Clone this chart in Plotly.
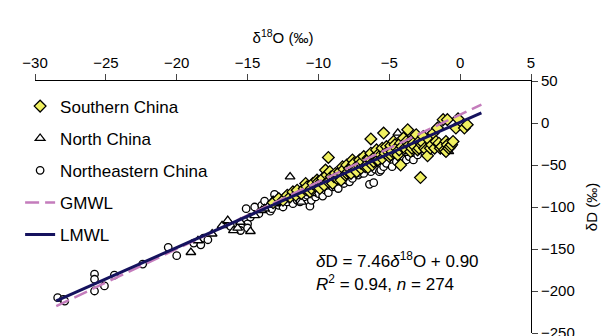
import plotly.graph_objects as go

# Southern China (diamonds)
south_x = [-13.2, -12.8, -12.5, -12.2, -12.0, -11.8, -11.6, -11.5, -11.2, -11.0, -10.9, -10.8, -10.6, -10.5, -10.4,
           -10.2, -10.1, -10.0, -9.9, -9.8, -9.7, -9.6, -9.5, -9.4, -9.3, -9.3, -9.2, -9.1, -9.0, -8.9, -8.8, -8.7,
           -8.6, -8.5, -8.4, -8.3, -8.2, -8.1, -8.0, -8.0, -7.9, -7.8, -7.7, -7.6, -7.6, -7.5, -7.4, -7.3, -7.2,
           -7.1, -7.0, -7.0, -6.9, -6.8, -6.7, -6.6, -6.5, -6.5, -6.4, -6.3, -6.3, -6.2, -6.1, -6.0, -5.9, -5.9,
           -5.8, -5.7, -5.6, -5.5, -5.5, -5.4, -5.3, -5.2, -5.1, -5.0, -4.9, -4.9, -4.8, -4.7, -4.6, -4.5, -4.4,
           -4.3, -4.2, -4.2, -4.1, -4.0, -3.9, -3.8, -3.7, -3.6, -3.5, -3.4, -3.4, -3.3, -3.2, -3.1, -3.0, -2.9,
           -2.9, -2.8, -2.7, -2.6, -2.6, -2.5, -2.4, -2.3, -2.2, -2.1, -2.0, -1.9, -1.8, -1.7, -1.6, -1.5, -1.4,
           -1.3, -1.2, -1.1, -1.0, -1.0, -0.9, -0.9, -0.8, -0.7, -0.6, -0.5, -0.3, -0.15, 0.3, 0.5]
south_y = [-95, -90, -92, -86, -88, -82, -86, -80, -84, -78, -72, -76, -82, -78, -72,
           -75, -68, -70, -78, -70, -66, -74, -56, -62, -41, -70, -58, -64, -72, -64, -60, -66,
           -62, -58, -68, -52, -55, -62, -50, -60, -58, -54, -60, -52, -44, -48, -56, -58, -50,
           -44, -54, -48, -46, -40, -52, -50, -53, -42, -42, -19, -36, -50, -46, -40, -32, -44,
           -44, -36, -38, -30, -42, -12, -36, -28, -34, -40, -27, -38, -34, -22, -26, -30, -38,
           -32, -50, -24, -28, -18, -30, -22, -8, -26, -34, -20, -30, -24, -28, -14, -32, -22,
           -30, -65, -26, -16, -24, -30, -32, -39, -20, -30, -26, -12, -30, -22, -6, -24, -30,
           -28, 4, -32, -22, -34, 4, -26, -30, -28, -26, -22, -6, 5, -6, -2]

# North China (triangles)
north_x = [-19.0, -18.5, -17.5, -16.8, -16.4, -16.4, -16.0, -15.7, -15.5, -14.8, -14.5, -14.0, -13.8, -13.5, -13.2,
           -13.0, -12.8, -12.5, -12.0, -11.8, -11.5, -11.2, -10.8, -10.5, -10.2, -9.8, -9.5, -9.2, -8.8, -8.5, -8.2,
           -7.8, -7.5, -7.2, -6.8, -6.5, -6.2, -5.8, -5.5, -5.2, -4.8, -4.4, -4.2, -4.0, -3.8, -3.6, -3.2, -2.8,
           -1.2, -0.8]
north_y = [-154, -140, -132, -122, -117, -116, -128, -125, -118, -129, -110, -104, -102, -98, -92,
           -96, -94, -90, -64, -86, -80, -94, -80, -84, -76, -72, -70, -66, -70, -58, -62,
           -56, -60, -54, -48, -52, -46, -42, -40, -38, -30, -12, -36, -36, -26, -28, -22, -30,
           -30, -34]

# Northeastern China (circles)
ne_x = [-28.4, -28.0, -27.9, -25.8, -25.8, -25.8, -25.1, -24.4, -22.4, -20.6, -20.0, -18.8, -18.3, -18.1, -17.8,
        -16.2, -15.5, -15.1, -15.0, -15.0, -14.8, -14.5, -14.2, -14.0, -13.8, -13.4, -13.3, -13.1, -12.8, -12.5,
        -12.2, -12.0, -11.8, -11.5, -11.3, -11.0, -10.8, -10.6, -10.5, -10.2, -10.0, -9.8, -9.7, -9.5, -9.3,
        -9.0, -8.8, -8.6, -8.2, -8.0, -7.8, -7.6, -7.2, -7.0, -6.8, -6.4, -6.3, -6.1, -6.0, -5.7, -5.6, -5.4,
        -5.2, -4.8, -4.5, -4.2, -3.8, -3.6, -3.3, -3.0]
ne_y = [-208, -210, -212, -180, -186, -200, -194, -181, -168, -148, -158, -143, -145, -137, -139,
        -123, -128, -102, -120, -125, -112, -100, -108, -98, -93, -105, -102, -85, -98, -100,
        -94, -90, -96, -92, -94, -88, -86, -99, -92, -88, -84, -78, -87, -80, -83,
        -76, -72, -78, -72, -68, -70, -66, -62, -60, -60, -73, -58, -71, -55, -58, -56, -52,
        -48, -52, -46, -50, -44, -40, -44, -38]

# Meteoric water lines
line_x = [-28.5, 1.5]
gmwl_slope, gmwl_icpt = 8.0, 10.0
lmwl_slope, lmwl_icpt = 7.46, 0.90
gmwl_y = [gmwl_slope * v + gmwl_icpt for v in line_x]
lmwl_y = [lmwl_slope * v + lmwl_icpt for v in line_x]

x_ticks = [-30, -25, -20, -15, -10, -5, 0, 5]
y_ticks = [50, 0, -50, -100, -150, -200, -250]

FONT = "Liberation Sans, Arial, sans-serif"
fig = go.Figure()

fig.add_trace(go.Scatter(x=ne_x, y=ne_y, mode="markers", name="Northeastern China",
                         legendgroup="c", legendrank=3,
                         marker=dict(symbol="circle", size=7.5, color="white",
                                     line=dict(color="black", width=1.3))))
fig.add_trace(go.Scatter(x=north_x, y=north_y, mode="markers", name="North China",
                         legendgroup="b", legendrank=2,
                         marker=dict(symbol="triangle-up", size=8.5, color="white",
                                     line=dict(color="black", width=1.3))))
fig.add_trace(go.Scatter(x=south_x, y=south_y, mode="markers", name="Southern China",
                         legendgroup="a", legendrank=1,
                         marker=dict(symbol="diamond", size=9, color="#f0f060",
                                     line=dict(color="black", width=1.3))))
fig.add_trace(go.Scatter(x=line_x, y=gmwl_y, mode="lines", name="GMWL",
                         legendgroup="d", legendrank=4,
                         line=dict(color="#c47cbc", width=2.5, dash="14px,6px")))
fig.add_trace(go.Scatter(x=line_x, y=lmwl_y, mode="lines", name="LMWL",
                         legendgroup="e", legendrank=5,
                         line=dict(color="#15125e", width=3)))

fig.add_annotation(x=-10.3, y=-163, xref="x", yref="y", xanchor="left", yanchor="middle",
                   text="<i>δ</i>D = 7.46<i>δ</i><sup>18</sup>O + 0.90", showarrow=False,
                   font=dict(family=FONT, size=17, color="black"))
fig.add_annotation(x=-10.3, y=-191, xref="x", yref="y", xanchor="left", yanchor="middle",
                   text="<i>R</i><sup>2</sup> = 0.94, <i>n</i> = 274", showarrow=False,
                   font=dict(family=FONT, size=17, color="black"))

fig.update_layout(
    width=610, height=336,
    margin=dict(l=27, r=87, t=73, b=3),
    paper_bgcolor="white", plot_bgcolor="white",
    font=dict(family=FONT, size=15, color="black"),
    showlegend=True,
    legend=dict(x=-0.03, y=0.97, xanchor="left", yanchor="top",
                bgcolor="rgba(0,0,0,0)", font=dict(family=FONT, size=17),
                traceorder="grouped", tracegroupgap=7, itemwidth=30),
    xaxis=dict(side="top", range=[-30, 5], tickvals=x_ticks, ticks="outside", ticklen=6,
               showline=True, linecolor="black", linewidth=1, showgrid=False, zeroline=False,
               tickfont=dict(size=15),
               title=dict(text="δ<sup>18</sup>O (‰)", standoff=6, font=dict(size=15))),
    yaxis=dict(side="right", range=[-250, 50], tickvals=y_ticks, ticks="outside", ticklen=6,
               showline=True, linecolor="black", linewidth=1, showgrid=False, zeroline=False,
               tickfont=dict(size=15), ticklabeloverflow="allow",
               title=dict(text="δD (‰)", standoff=12, font=dict(size=15))),
)

fig.write_html("out.html")
